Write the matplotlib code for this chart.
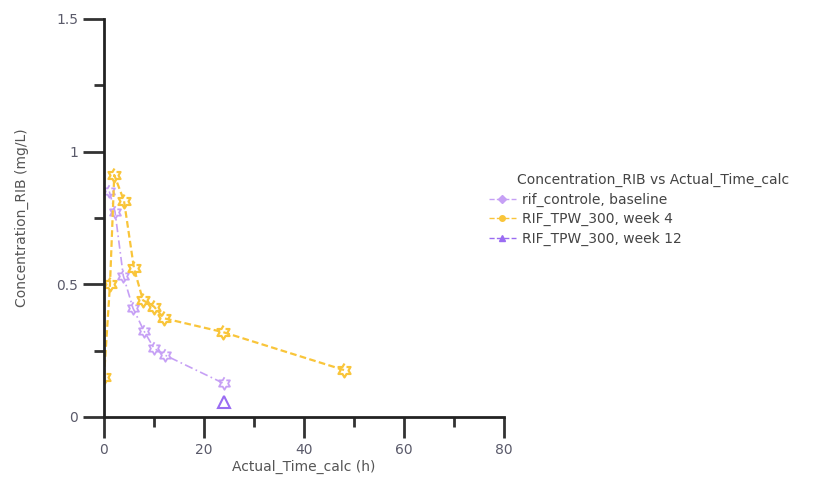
import numpy as np
import matplotlib.pyplot as plt
from matplotlib.lines import Line2D

# baseline (light purple)
base_t = [1.05, 2.2, 3.85, 5.8, 8.0, 10.0, 12.1, 23.9]
base_c = [0.85, 0.774, 0.533, 0.41, 0.324, 0.259, 0.234, 0.127]

# week 4 (yellow)
wk4_t = [0.0, 1.2, 2.05, 4.0, 6.0, 7.8, 10.0, 12.0, 23.8, 48.0]
wk4_c = [0.152, 0.50, 0.912, 0.815, 0.56, 0.44, 0.416, 0.372, 0.32, 0.177]

# week 12 (purple)
wk12_t = [24.0]
wk12_c = [0.058]

labels = ["rif_controle, baseline", "RIF_TPW_300, week 4", "RIF_TPW_300, week 12"]

c_base = "#c6a0f5"
c_wk4 = "#f9c53a"
c_wk12 = "#9a6cf2"

# six-pointed star marker
ang = np.pi / 2 + np.arange(12) * np.pi / 6
rad = np.where(np.arange(12) % 2 == 0, 1.0, 0.58)
star = list(zip(rad * np.cos(ang), rad * np.sin(ang)))

fig = plt.figure(figsize=(8.32, 4.97), dpi=100)
ax = fig.add_axes([104 / 832, 80 / 497, 400 / 832, 398 / 497])

ax.plot(base_t, base_c, color=c_base, ls=(0, (5, 2, 1, 2)), lw=1.2,
        marker=star, ms=9, mfc="none", mec=c_base, mew=1.3)
ax.plot(wk4_t, wk4_c, color=c_wk4, ls=(0, (3, 1.5)), lw=1.6,
        marker=star, ms=10, mfc="none", mec=c_wk4, mew=1.6)
ax.plot(wk12_t, wk12_c, color=c_wk12, ls="--", lw=1.2,
        marker="^", ms=9, mfc="none", mec=c_wk12, mew=1.5)

ax.set_xlim(0, 80)
ax.set_ylim(0, 1.5)
ax.set_xticks([0, 20, 40, 60, 80])
ax.set_xticks([10, 30, 50, 70], minor=True)
ax.set_yticks([0, 0.5, 1, 1.5])
ax.set_yticklabels(["0", "0.5", "1", "1.5"])
ax.set_yticks([0.25, 0.75, 1.25], minor=True)

for s in ["top", "right"]:
    ax.spines[s].set_visible(False)
for s in ["left", "bottom"]:
    ax.spines[s].set_linewidth(2)
    ax.spines[s].set_color("#222222")
ax.tick_params(which="major", direction="out", length=15, width=2,
               color="#333333", labelsize=10, labelcolor="#5a5a6a")
ax.tick_params(which="minor", direction="out", length=7, width=2, color="#333333")

ax.set_xlabel("Actual_Time_calc (h)", fontsize=10, color="#555555", labelpad=2)
ax.set_ylabel("Concentration_RIB (mg/L)", fontsize=10, color="#555555", labelpad=20)

handles = [
    Line2D([], [], color=c_base, ls="--", lw=1, marker="D", ms=4, mfc=c_base, mec=c_base),
    Line2D([], [], color=c_wk4, ls="--", lw=1, marker="o", ms=4, mfc=c_wk4, mec=c_wk4),
    Line2D([], [], color=c_wk12, ls="--", lw=1, marker="^", ms=4, mfc=c_wk12, mec=c_wk12),
]
leg = fig.legend(handles, labels, loc="upper left",
                 bbox_to_anchor=(476 / 832, 1 - 180 / 497),
                 frameon=False, fontsize=10,
                 handlelength=2.0, handletextpad=0.4, labelspacing=0.4)
for t in leg.get_texts():
    t.set_color("#444444")
fig.text(517 / 832, 1 - 180 / 497, "Concentration_RIB vs Actual_Time_calc",
         fontsize=10, color="#444444", va="center", ha="left")

fig.savefig("out.png", dpi=100)
